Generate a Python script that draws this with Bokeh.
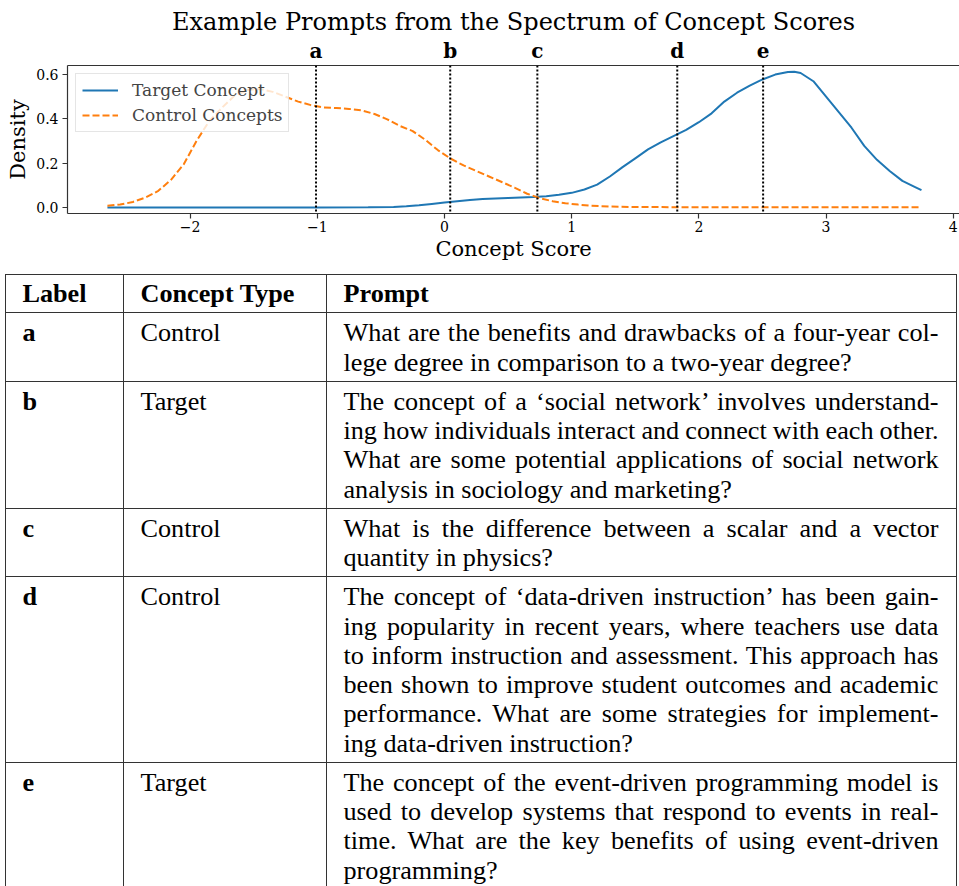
from bokeh.plotting import figure
from bokeh.models import (Range1d, Span, LinearAxis, FixedTicker, Legend, LegendItem,
                          Div, GlobalInlineStyleSheet)
from bokeh.layouts import column
from bokeh.embed import file_html
from bokeh.resources import INLINE

# ---------------- data ----------------
target_x = [-2.65, -2.0, -1.5, -1.0, -0.6, -0.4, -0.3, -0.2, -0.1, 0.0, 0.1, 0.2, 0.3, 0.4,
            0.5, 0.6, 0.7, 0.8, 0.9, 1.0, 1.1, 1.2, 1.3, 1.4, 1.5, 1.6, 1.7, 1.8, 1.9, 2.0,
            2.1, 2.2, 2.3, 2.4, 2.5, 2.6, 2.7, 2.75, 2.8, 2.9, 3.0, 3.1, 3.2, 3.3, 3.4, 3.5,
            3.6, 3.7, 3.75]
target_density = [0.0, 0.0, 0.0, 0.0, 0.0005, 0.002, 0.005, 0.010, 0.016, 0.022, 0.028, 0.034,
                  0.038, 0.041, 0.043, 0.045, 0.047, 0.051, 0.057, 0.066, 0.081, 0.103, 0.140,
                  0.182, 0.222, 0.262, 0.294, 0.322, 0.350, 0.385, 0.425, 0.478, 0.518, 0.550,
                  0.578, 0.600, 0.612, 0.613, 0.607, 0.570, 0.500, 0.430, 0.360, 0.278, 0.215,
                  0.165, 0.120, 0.092, 0.078]

control_x = [-2.65, -2.55, -2.45, -2.35, -2.25, -2.15, -2.05, -1.95, -1.85, -1.75, -1.65,
             -1.55, -1.45, -1.35, -1.25, -1.15, -1.05, -0.95, -0.85, -0.75, -0.65, -0.55,
             -0.45, -0.35, -0.25, -0.15, -0.05, 0.05, 0.15, 0.25, 0.35, 0.45, 0.55, 0.65,
             0.75, 0.85, 0.95, 1.05, 1.15, 1.3, 1.5, 2.0, 3.0, 3.75]
control_density = [0.008, 0.013, 0.025, 0.045, 0.075, 0.125, 0.195, 0.300, 0.390, 0.450,
                   0.505, 0.530, 0.535, 0.522, 0.500, 0.478, 0.462, 0.452, 0.449, 0.445,
                   0.438, 0.422, 0.398, 0.368, 0.345, 0.305, 0.258, 0.220, 0.190, 0.165,
                   0.140, 0.115, 0.090, 0.062, 0.042, 0.028, 0.019, 0.013, 0.008, 0.004,
                   0.002, 0.001, 0.0005, 0.0005]

label_names = ["a", "b", "c", "d", "e"]
label_scores = [-1.01, 0.045, 0.73, 1.83, 2.505]
concept_types = ["Control", "Target", "Control", "Control", "Target"]
prompt_lines = [
    ["What are the benefits and drawbacks of a four-year col-",
     "lege degree in comparison to a two-year degree?"],
    ["The concept of a \u2018social network\u2019 involves understand-",
     "ing how individuals interact and connect with each other.",
     "What are some potential applications of social network",
     "analysis in sociology and marketing?"],
    ["What is the difference between a scalar and a vector",
     "quantity in physics?"],
    ["The concept of \u2018data-driven instruction\u2019 has been gain-",
     "ing popularity in recent years, where teachers use data",
     "to inform instruction and assessment. This approach has",
     "been shown to improve student outcomes and academic",
     "performance. What are some strategies for implement-",
     "ing data-driven instruction?"],
    ["The concept of the event-driven programming model is",
     "used to develop systems that respond to events in real-",
     "time. What are the key benefits of using event-driven",
     "programming?"],
]
table_headers = ["Label", "Concept Type", "Prompt"]

xtick_values = [-2, -1, 0, 1, 2, 3, 4]
xtick_labels = ["\u22122", "\u22121", "0", "1", "2", "3", "4"]
ytick_values = [0.0, 0.2, 0.4, 0.6]
ytick_labels = ["0.0", "0.2", "0.4", "0.6"]

SERIF = "DejaVu Serif"
SPINE = "#333333"
W = 959
FIG_H = 269
DIV_H = 617

# ---------------- chart ----------------
p = figure(width=W, height=FIG_H, x_range=Range1d(-2.964, 4.049),
           y_range=Range1d(-0.0272, 0.641), output_backend="svg",
           toolbar_location=None, min_border_left=67, min_border_right=0,
           min_border_top=65, min_border_bottom=56, sizing_mode="fixed")
p.outline_line_color = None
p.xgrid.visible = False
p.ygrid.visible = False
p.background_fill_color = "white"
p.border_fill_color = "white"

p.title.text = "Example Prompts from the Spectrum of Concept Scores"
p.title.text_font = SERIF
p.title.text_font_size = "24px"
p.title.text_font_style = "normal"
p.title.align = "center"
p.title.text_color = "black"
p.title.standoff = 0
p.title.offset = 0

xa = p.below[0]
xa.ticker = FixedTicker(ticks=xtick_values)
xa.major_label_overrides = dict(zip(xtick_values, xtick_labels))
xa.axis_label = "Concept Score"
ya = p.left[0]
ya.ticker = FixedTicker(ticks=ytick_values)
ya.major_label_overrides = dict(zip(ytick_values, ytick_labels))
ya.axis_label = "Density"
for ax in (xa, ya):
    ax.axis_line_color = SPINE
    ax.axis_line_width = 1.2
    ax.major_tick_line_color = SPINE
    ax.major_tick_line_width = 1.2
    ax.major_tick_out = 5
    ax.major_tick_in = 0
    ax.minor_tick_line_color = None
    ax.minor_tick_out = 0
    ax.minor_tick_in = 0
    ax.major_label_text_font = SERIF
    ax.major_label_text_font_size = "14px"
    ax.major_label_text_color = "black"
    ax.axis_label_text_font = SERIF
    ax.axis_label_text_font_size = "21px"
    ax.axis_label_text_font_style = "normal"
    ax.axis_label_text_color = "black"
xa.major_label_standoff = 2
xa.axis_label_standoff = 2
ya.major_label_standoff = 4
ya.axis_label_standoff = 3

top = LinearAxis(ticker=FixedTicker(ticks=label_scores),
                 major_label_overrides=dict(zip(label_scores, label_names)))
top.axis_line_color = SPINE
top.axis_line_width = 1.2
top.major_tick_line_color = None
top.minor_tick_line_color = None
top.major_tick_out = 0
top.major_tick_in = 0
top.minor_tick_out = 0
top.minor_tick_in = 0
top.major_label_text_font = SERIF
top.major_label_text_font_size = "20px"
top.major_label_text_font_style = "bold"
top.major_label_text_color = "black"
top.major_label_standoff = 3
p.add_layout(top, "above")

for s in label_scores:
    p.add_layout(Span(location=s, dimension="height", line_color="black",
                      line_dash="2 2", line_width=2))

r1 = p.line(target_x, target_density, line_color="#1f77b4", line_width=2)
r2 = p.line(control_x, control_density, line_color="#ff7f0e", line_width=2,
            line_dash="7 3")

legend = Legend(items=[LegendItem(label="Target Concept", renderers=[r1]),
                       LegendItem(label="Control Concepts", renderers=[r2])],
                location="top_left", margin=8, padding=6, spacing=5,
                glyph_width=36, glyph_height=20, label_height=20, label_standoff=14,
                label_text_font=SERIF, label_text_font_size="17px",
                border_line_color="#cccccc", border_line_width=1,
                background_fill_alpha=0.8)
p.add_layout(legend)

# ---------------- table ----------------
td = ("border:1px solid #333; padding:5px 17px 4px 17px; vertical-align:top; "
      "text-align:left;")
th = ("border:1px solid #333; padding:4px 17px 4px 17px; vertical-align:top; "
      "text-align:left; font-weight:bold;")
rows = []
rows.append("<tr>" + "".join(f'<th style="{th}">{h}</th>' for h in table_headers) + "</tr>")
for name, ctype, lines in zip(label_names, concept_types, prompt_lines):
    parts = []
    for i, ln in enumerate(lines):
        if i < len(lines) - 1:
            parts.append('<div style="text-align:justify; text-align-last:justify; '
                         f'word-spacing:-2px; white-space:nowrap;">{ln}</div>')
        else:
            parts.append(f'<div style="white-space:nowrap;">{ln}</div>')
    rows.append(f'<tr><td style="{td} font-weight:bold;">{name}</td>'
                f'<td style="{td}">{ctype}</td>'
                f'<td style="{td}">{"".join(parts)}</td></tr>')

html = ('<table style="border-collapse:collapse; table-layout:fixed; width:951px; '
        'margin:5px 0 0 4.5px; font-family:\'Liberation Serif\',\'Times New Roman\',serif; '
        'font-size:26.2px; line-height:29.25px; color:#000;">'
        '<colgroup><col style="width:118px"><col style="width:203px">'
        '<col style="width:630px"></colgroup>' + "".join(rows) + "</table>")

div = Div(text=html, width=W, height=DIV_H, sizing_mode="fixed", margin=(0, 0, 0, 0),
          styles={"overflow": "hidden"},
          stylesheets=[GlobalInlineStyleSheet(css="html, body { overflow: hidden; }")])

layout = column(p, div, width=W, height=FIG_H + DIV_H, sizing_mode="fixed")
open("out.html", "w").write(file_html(layout, INLINE))
